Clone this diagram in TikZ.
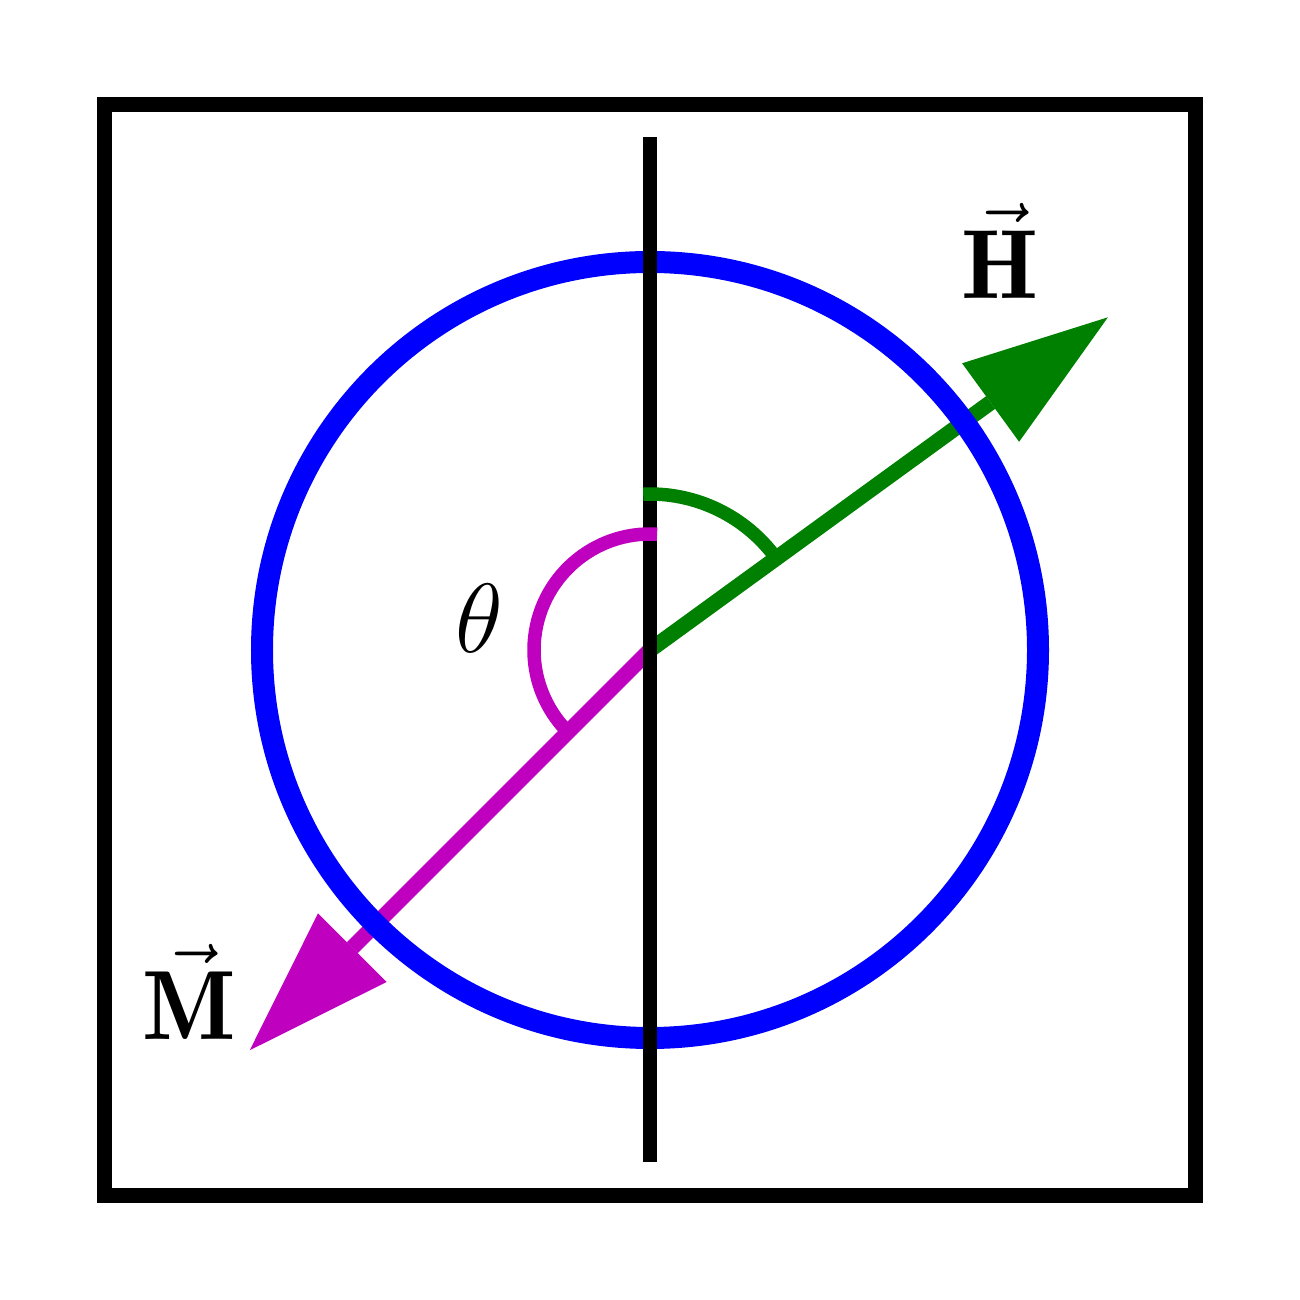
\documentclass[tikz,border=0pt]{standalone}
\usepackage{fix-cm}
\usepackage{amsmath}
\usepackage{tikz}
\usetikzlibrary{arrows.meta}
\DeclareMathAlphabet{\mathsb}{OT1}{cmr}{b}{n}
\definecolor{ringblue}{RGB}{0,0,255}
\definecolor{hgreen}{RGB}{0,128,0}
\definecolor{mmag}{RGB}{191,0,191}
\tikzstyle{frame} = [draw=black, line width=0.15cm]
\tikzstyle{ring} = [draw=ringblue, line width=0.22cm]
\tikzstyle{axis} = [draw=black, line width=0.145cm]
\tikzstyle{vecarrow} = [line width=0.155cm, -{Triangle[length=1.45cm, width=0.97cm, line width=0pt]}]
\tikzstyle{angarc} = [line width=0.135cm]
\tikzstyle{vlabel} = [font=\fontsize{28}{34}\selectfont, inner sep=0pt, anchor=base]

\begin{document}
\begin{tikzpicture}
    \useasboundingbox (-6.5,-6.5) rectangle (6.5,6.5);
    \coordinate (O) at (0,0);
    \coordinate (Htip) at (36:5.66);
    \coordinate (Mtip) at (225:5.66);
    \coordinate (top) at (0,5.13);
    \coordinate (bot) at (0,-5.12);

    % field and magnetisation
    \draw [vecarrow, draw=hgreen, fill=hgreen] (O) -- (Htip);
    \draw [vecarrow, draw=mmag, fill=mmag] (O) -- (Mtip);

    \draw [ring] (O) circle (3.88);
    \draw [axis] (top) -- (bot);

    % angles
    \draw [angarc, draw=hgreen] (O) ++(92.5:1.56) arc[start angle=92.5, end angle=36, radius=1.56];
    \draw [angarc, draw=mmag] (O) ++(86.5:1.16) arc[start angle=86.5, end angle=225, radius=1.16];

    \node (Hlab) [vlabel] at (3.5,3.51) {$\vec{\mathsb{H}}$};
    \node (Mlab) [vlabel] at (-4.61,-3.90) {$\vec{\mathsb{M}}$};
    \node (theta) [vlabel] at (-1.71,-0.03) {$\theta$};

    \draw [frame] (-5.455,-5.455) rectangle (5.455,5.455);
\end{tikzpicture}
\end{document}
